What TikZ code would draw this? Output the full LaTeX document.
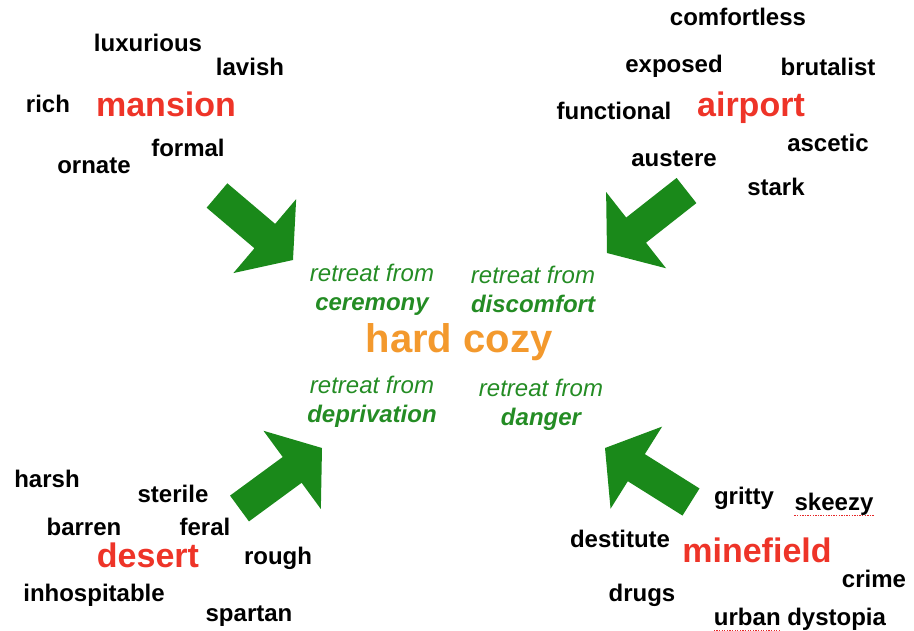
\documentclass[tikz,border=0pt]{standalone}
\usepackage{fontspec}
\setmainfont{Liberation Sans}
\usetikzlibrary{calc}
\definecolor{arrowgreen}{RGB}{26,137,26}
\definecolor{textgreen}{RGB}{36,140,36}
\definecolor{placered}{RGB}{238,52,40}
\definecolor{cozyorange}{RGB}{243,153,45}
\definecolor{spellred}{RGB}{230,40,40}
\tikzstyle{word}=[inner sep=0pt,yshift=-2.5pt,font=\fontsize{24}{28}\selectfont\bfseries,text height=17pt,text depth=5pt]
\tikzstyle{place}=[inner sep=0pt,yshift=-2.5pt,font=\fontsize{34}{40}\selectfont\bfseries,text=placered,text height=24pt,text depth=7pt]
\tikzstyle{retreat}=[inner sep=0pt,yshift=-2.5pt,align=center,font=\fontsize{24}{29}\selectfont\itshape,text=textgreen]
\tikzstyle{bigarrow}=[fill=arrowgreen]
\tikzstyle{spell}=[draw=spellred,dash pattern=on 1.3pt off 1.3pt,line width=1.3pt]

\begin{document}
\begin{tikzpicture}[x=1pt,y=-1pt]
    \useasboundingbox (0,0) rectangle (914,630);
    % the four places
    \foreach \pos/\name in {{(166,105)/mansion}, {(751,105)/airport}, {(148,556)/desert}, {(757,551)/minefield}}
        \node[place] (\name) at \pos {\name};
    % words round each place
    \foreach \pos/\name/\txt in {{(148,43)/luxurious/luxurious}, {(250,67)/lavish/lavish}, {(48,104)/rich/rich},
        {(188,148)/formal/formal}, {(94,165)/ornate/ornate},
        {(738,17)/comfortless/comfortless}, {(674,64)/exposed/exposed}, {(828,67)/brutalist/brutalist},
        {(614,111)/functional/functional}, {(828,143)/ascetic/ascetic}, {(674,158)/austere/austere}, {(776,187)/stark/stark},
        {(47,479)/harsh/harsh}, {(173,494)/sterile/sterile}, {(84,527)/barren/barren}, {(205,527)/feral/feral},
        {(278,556)/rough/rough}, {(94,593)/inhospitable/inhospitable}, {(249,613)/spartan/spartan},
        {(744,496)/gritty/gritty}, {(834,502)/skeezy/skeezy}, {(620,539)/destitute/destitute},
        {(874,579)/crime/crime}, {(642,593)/drugs/drugs}, {(800,617)/urban/urban dystopia}}
        \node[word] (\name) at \pos {\txt};
    % spell-check marks
    \draw[spell] ($(skeezy.base west)+(0,5)$) -- ($(skeezy.base east)+(0,5)$);
    \draw[spell] ($(urban.base west)+(0,5)$) -- ++(67,0);
    % the middle
    \node[inner sep=0pt,yshift=-2.5pt,font=\fontsize{40}{46}\selectfont\bfseries,text=cozyorange] (cozy) at (459,340) {hard cozy};
    \node[retreat] (ceremony) at (372,287) {retreat from\\\bfseries ceremony};
    \node[retreat] (discomfort) at (533,287) {retreat from\\\bfseries discomfort};
    \node[retreat] (deprivation) at (372,399) {retreat from\\\bfseries deprivation};
    \node[retreat] (danger) at (541,402) {retreat from\\\bfseries danger};
    % big arrows, tail to tip
    \foreach \tx/\ty/\hx/\hy in {217/195.5/293/260, 686.5/190.5/607/253, 239.5/508.5/322/448, 691/502/605/448}
    {
        \coordinate (atail) at (\tx,\ty);
        \coordinate (atip) at (\hx,\hy);
        \coordinate (aneck) at ($(atip)!37pt!(atail)$);
        \fill[bigarrow] ($(atail)!16pt!90:(atip)$) -- ($(aneck)!16pt!90:(atip)$) -- ($(aneck)!48.5pt!90:(atip)$) -- (atip)
            -- ($(aneck)!48.5pt!-90:(atip)$) -- ($(aneck)!16pt!-90:(atip)$) -- ($(atail)!16pt!-90:(atip)$) -- cycle;
    }
\end{tikzpicture}
\end{document}
